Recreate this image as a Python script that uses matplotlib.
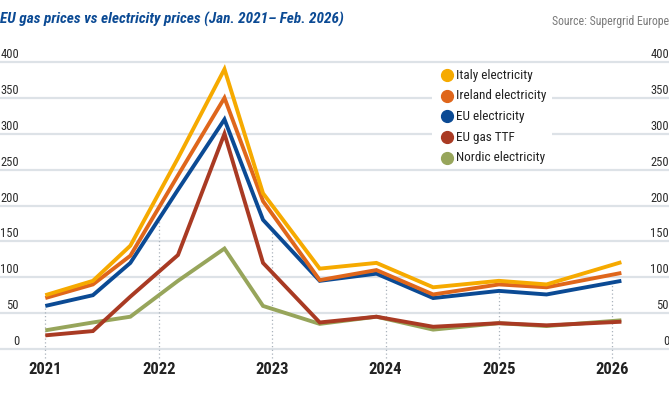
import numpy as np
import matplotlib
matplotlib.use("Agg")
import matplotlib.pyplot as plt
from matplotlib import font_manager
from matplotlib.lines import Line2D
from matplotlib.patches import Rectangle

# ---- data ----
x_dates = [2021.0, 2021.42, 2021.75, 2022.17, 2022.58, 2022.92, 2023.42, 2023.92, 2024.42, 2025.0, 2025.42, 2026.08]
italy = [75, 95, 144, 266, 390, 217, 112, 120, 86, 95, 90, 121]
ireland = [71, 90, 130, 242, 350, 206, 96, 110, 76, 90, 86, 106]
eu_elec = [60, 75, 120, 222, 320, 180, 95, 105, 71, 81, 76, 95]
eu_gas = [19, 25, 73, 131, 300, 120, 37, 45, 31, 36, 33, 38]
nordic = [26, 37, 45, 95, 140, 60, 35, 45, 27, 36, 32, 40]
year_ticks = [2021, 2022, 2023, 2024, 2025, 2026]
y_ticks = [0, 50, 100, 150, 200, 250, 300, 350, 400]

series_names = ["Italy electricity", "Ireland electricity", "EU electricity", "EU gas TTF", "Nordic electricity"]
series_vals = [italy, ireland, eu_elec, eu_gas, nordic]
series_colors = ["#F6AA00", "#DF661B", "#0B4A94", "#A93A23", "#97A55B"]

# ---- fonts ----
avail = {f.name for f in font_manager.fontManager.ttflist}
narrow = next((f for f in ["Liberation Sans Narrow", "Roboto Condensed", "Roboto", "Open Sans"] if f in avail), "DejaVu Sans")
plt.rcParams["font.family"] = [narrow, "DejaVu Sans"]

W, H = 669, 400
fig = plt.figure(figsize=(W / 100, H / 100), dpi=100)

def fx(px):
    return px / W

def fy(py):
    return 1 - py / H

# axes geometry: x 2021 at px 45.3, 113.4 px/year ; y 0 at px 349, 0.7175 px/unit
ppy = 113.4
ppu = 0.7175
x0 = 2021 - 45.3 / ppy
x1 = 2021 + (W - 45.3) / ppy
ylo, yhi = -30, 420
bot_px = 349 + (-ylo) * ppu
top_px = 349 - yhi * ppu
ax = fig.add_axes([0, fy(bot_px), 1, (bot_px - top_px) / H])
ax.set_xlim(x0, x1)
ax.set_ylim(ylo, yhi)
ax.axis("off")

# gridlines
for v in y_ticks:
    ax.axhline(v, color="#dde2e7", lw=1.6, zorder=1)

# dotted verticals from just below zero up to EU electricity
for yr in year_ticks:
    top = np.interp(yr, x_dates, eu_elec)
    ax.plot([yr, yr], [-12, top], color="#aab3bc", lw=0.9, ls=(0, (1, 2)), zorder=1.5)

# y labels
for v in y_ticks:
    ax.text(fx(19), v + 5.5, str(v), transform=ax.get_yaxis_transform(), ha="right",
            va="baseline", fontsize=9, color="#2b2b2b", zorder=3)
    ax.text(fx(669), v + 5.5, str(v), transform=ax.get_yaxis_transform(), ha="right",
            va="baseline", fontsize=9, color="#2b2b2b", zorder=3)

# x labels
for yr in year_ticks:
    fig.text(fx(45.3 + (yr - 2021) * ppy), fy(369), str(yr), ha="center", va="center",
             fontsize=12, fontweight="bold", color="#222222")

# lines (draw order: gas, nordic, eu, ireland, italy)
for idx in [3, 4, 2, 1, 0]:
    ax.plot(x_dates, series_vals[idx], color=series_colors[idx], lw=2.8,
            solid_joinstyle="miter", solid_capstyle="butt", zorder=4 + (4 - idx))

# legend
fig.add_artist(Rectangle((fx(432), fy(166)), fx(552) - fx(432), fy(64) - fy(166),
                         transform=fig.transFigure, facecolor="white", edgecolor="none", zorder=5))
for i, (name, col) in enumerate(zip(series_names, series_colors)):
    yy = 75 + i * 20.7
    fig.add_artist(Line2D([fx(447)], [fy(yy)], marker="o", markersize=8.5, color=col,
                          markeredgecolor=col, linestyle="none", transform=fig.transFigure, zorder=6))
    fig.text(fx(456.5), fy(yy), name, ha="left", va="center", fontsize=9.5, color="#222222", zorder=6)

# title & source
fig.text(fx(0), fy(19), "EU gas prices vs electricity prices (Jan. 2021\u2013 Feb. 2026)",
         ha="left", va="center", fontsize=11, fontweight="bold", fontstyle="italic", color="#0B4A94")
fig.text(fx(669), fy(21), "Source: Supergrid Europe", ha="right", va="center",
         fontsize=8.5, color="#7a7a7a")

fig.savefig("out.png", dpi=100)
